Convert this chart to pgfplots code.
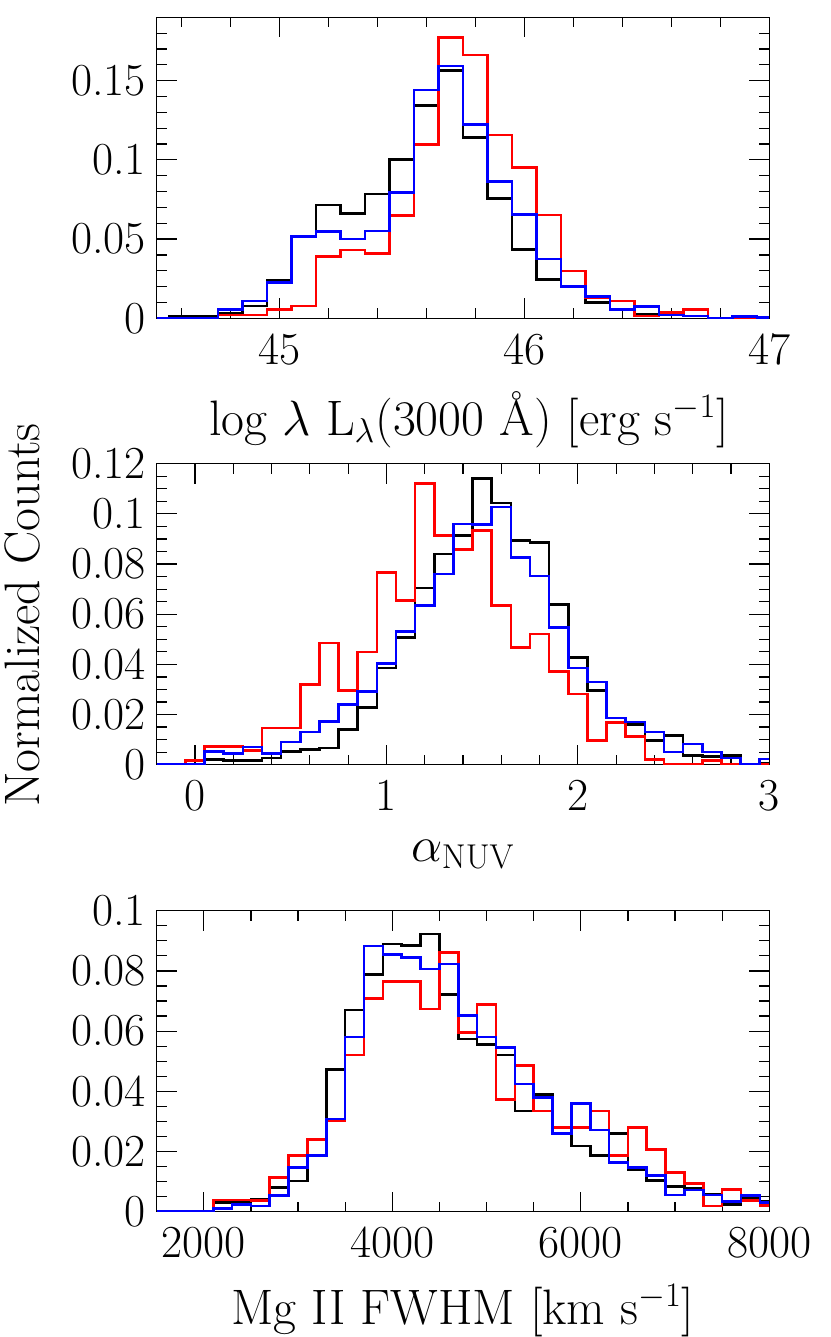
\documentclass[border=0pt]{standalone}
\usepackage{pgfplots}
\pgfplotsset{compat=1.18}
\pgfplotsset{
  histax/.style={
    scale only axis, width=306.3bp, height=150.5bp,
    axis line style={line width=0.75bp, black},
    every tick/.style={line width=0.6bp, black},
    major tick length=10bp, minor tick length=5bp,
    tick align=inside,
    tick label style={font=\fontsize{23}{26}\selectfont},
    xticklabel style={yshift=-4bp},
    yticklabel style={xshift=-2bp},
    label style={font=\fontsize{25}{28}\selectfont},
    ymin=0,
  },
  hk/.style={const plot mark left, black, line width=1.3bp, no marks},
  hr/.style={const plot mark left, red, line width=1.3bp, no marks},
  hb/.style={const plot mark left, blue, line width=1.3bp, no marks},
}
\begin{document}
\begin{tikzpicture}[x=1bp,y=1bp]
\useasboundingbox (0,0) rectangle (415,-668.5);
% ---------------- panel 1
\begin{axis}[histax, at={(78.35bp,-8.65bp)}, anchor=north west,
  xmin=44.5, xmax=47, ymax=0.19,
  xtick={45,46,47}, xticklabels={45,46,47},
  minor xtick={44.6,44.8,45.2,45.4,45.6,45.8,46.2,46.4,46.6,46.8},
  ytick={0,0.05,0.1,0.15}, yticklabels={0,0.05,0.1,0.15},
  minor ytick={0.01,0.02,0.03,0.04,0.06,0.07,0.08,0.09,0.11,0.12,0.13,0.14,0.16,0.17,0.18},
  xlabel={log $\lambda$ L$_\lambda$(3000 \AA) [erg s$^{-1}$]},
  xlabel style={at={(axis description cs:0.51,-0.388)}, anchor=base},
]
\addplot[hk] coordinates {(44.5,0) (44.55,0.0015) (44.65,0.001) (44.75,0.003) (44.85,0.0078) (44.95,0.0242) (45.05,0.0515) (45.15,0.0715) (45.25,0.0663) (45.35,0.0785) (45.45,0.1003) (45.55,0.1342) (45.65,0.1563) (45.75,0.1142) (45.85,0.0757) (45.95,0.0435) (46.05,0.0246) (46.15,0.020) (46.25,0.0099) (46.35,0.0055) (46.45,0.0027) (46.55,0.002) (46.65,0.0015) (46.75,0) (46.85,0.0006) (46.95,0) (47.0,0)};
\addplot[hr] coordinates {(44.5,0) (44.55,0) (44.65,0) (44.75,0.002) (44.85,0.002) (44.95,0.0057) (45.05,0.0078) (45.15,0.039) (45.25,0.0431) (45.35,0.041) (45.45,0.0648) (45.55,0.1098) (45.65,0.1771) (45.75,0.1662) (45.85,0.1157) (45.95,0.0953) (46.05,0.0652) (46.15,0.0299) (46.25,0.0133) (46.35,0.011) (46.45,0.0015) (46.55,0.0036) (46.65,0.0057) (46.75,0) (46.85,0) (46.95,0) (47.0,0)};
\addplot[hb] coordinates {(44.5,0) (44.55,0) (44.65,0) (44.75,0.0057) (44.85,0.011) (44.95,0.0225) (45.05,0.0515) (45.15,0.0547) (45.25,0.050) (45.35,0.0551) (45.45,0.0793) (45.55,0.1441) (45.65,0.1593) (45.75,0.1224) (45.85,0.0863) (45.95,0.0656) (46.05,0.0374) (46.15,0.020) (46.25,0.0137) (46.35,0.0057) (46.45,0.0074) (46.55,0.002) (46.65,0.0015) (46.75,0) (46.85,0.001) (46.95,0.0006) (47.0,0.0006)};
\end{axis}
% ---------------- panel 2
\begin{axis}[histax, at={(78.35bp,-231.85bp)}, anchor=north west,
  xmin=-0.2, xmax=3, ymax=0.12,
  xtick={0,1,2,3}, xticklabels={0,1,2,3},
  minor xtick={0.2,0.4,0.6,0.8,1.2,1.4,1.6,1.8,2.2,2.4,2.6,2.8},
  ytick={0,0.02,0.04,0.06,0.08,0.1,0.12}, yticklabels={0,0.02,0.04,0.06,0.08,0.1,0.12},
  minor ytick={0.005,0.01,0.015,0.025,0.03,0.035,0.045,0.05,0.055,0.065,0.07,0.075,0.085,0.09,0.095,0.105,0.11,0.115},
  xlabel={$\alpha_{\mathrm{NUV}}$},
  xlabel style={at={(axis description cs:0.5,-0.321)}, anchor=base},
]
\addplot[hk] coordinates {(-0.2,0) (-0.05,0) (0.05,0.002) (0.15,0.0016) (0.25,0.0016) (0.35,0.0027) (0.45,0.0053) (0.55,0.006) (0.65,0.0066) (0.75,0.014) (0.85,0.0229) (0.95,0.0385) (1.05,0.0508) (1.15,0.0704) (1.25,0.084) (1.35,0.0913) (1.45,0.114) (1.55,0.1043) (1.65,0.0893) (1.75,0.0886) (1.85,0.0638) (1.95,0.0428) (2.05,0.0295) (2.15,0.0186) (2.25,0.016) (2.35,0.0096) (2.45,0.0116) (2.55,0.0036) (2.65,0.0033) (2.75,0.0036) (2.85,0.0003) (2.95,0.0007) (3.0,0.0007)};
\addplot[hr] coordinates {(-0.2,0) (-0.05,0.0017) (0.05,0.0073) (0.15,0.0073) (0.25,0.0057) (0.35,0.0146) (0.45,0.0146) (0.55,0.0319) (0.65,0.0485) (0.75,0.0296) (0.85,0.0449) (0.95,0.0767) (1.05,0.0655) (1.15,0.112) (1.25,0.0914) (1.35,0.0857) (1.45,0.0933) (1.55,0.0634) (1.65,0.0468) (1.75,0.0521) (1.85,0.0372) (1.95,0.0282) (2.05,0.0096) (2.15,0.0169) (2.25,0.0113) (2.35,0.002) (2.45,0) (2.55,0) (2.65,0.0017) (2.75,0) (2.85,0) (2.95,0) (3.0,0)};
\addplot[hb] coordinates {(-0.2,0) (-0.05,0) (0.05,0.0053) (0.15,0.0044) (0.25,0.007) (0.35,0.0044) (0.45,0.009) (0.55,0.013) (0.65,0.0173) (0.75,0.0239) (0.85,0.0292) (0.95,0.0403) (1.05,0.0532) (1.15,0.0634) (1.25,0.0761) (1.35,0.096) (1.45,0.0957) (1.55,0.1027) (1.65,0.0827) (1.75,0.0753) (1.85,0.0548) (1.95,0.0385) (2.05,0.033) (2.15,0.0186) (2.25,0.017) (2.35,0.013) (2.45,0.005) (2.55,0.0082) (2.65,0.005) (2.75,0.0027) (2.85,0.0003) (2.95,0.0023) (3.0,0.0023)};
\end{axis}
% ---------------- panel 3
\begin{axis}[histax, at={(78.35bp,-455.35bp)}, anchor=north west,
  xmin=1500, xmax=8000, ymax=0.1,
  xtick={2000,4000,6000,8000}, xticklabels={2000,4000,6000,8000},
  minor xtick={2500,3000,3500,4500,5000,5500,6500,7000,7500},
  ytick={0,0.02,0.04,0.06,0.08,0.1}, yticklabels={0,0.02,0.04,0.06,0.08,0.1},
  minor ytick={0.005,0.01,0.015,0.025,0.03,0.035,0.045,0.05,0.055,0.065,0.07,0.075,0.085,0.09,0.095},
  xlabel={Mg II FWHM [km s$^{-1}$]},
  xlabel style={at={(axis description cs:0.5,-0.376)}, anchor=base},
]
\addplot[hk] coordinates {(1500,0) (1700,0.0003) (1900,0.0003) (2100,0.003) (2300,0.003) (2500,0.0042) (2700,0.008) (2900,0.0102) (3100,0.024) (3300,0.0473) (3500,0.067) (3700,0.0789) (3900,0.089) (4100,0.0884) (4300,0.0923) (4500,0.0722) (4700,0.0574) (4900,0.0556) (5100,0.0521) (5300,0.0335) (5500,0.039) (5700,0.026) (5900,0.0218) (6100,0.0186) (6300,0.026) (6500,0.0141) (6700,0.0103) (6900,0.0083) (7100,0.0078) (7300,0.0058) (7500,0.0025) (7700,0.0047) (7900,0.0033) (8000,0.0033)};
\addplot[hr] coordinates {(1500,0) (1700,0) (1900,0) (2100,0.0039) (2300,0.0039) (2500,0.0037) (2700,0.0113) (2900,0.0186) (3100,0.024) (3300,0.0301) (3500,0.0521) (3700,0.0709) (3900,0.0765) (4100,0.0765) (4300,0.0674) (4500,0.0861) (4700,0.0596) (4900,0.0689) (5100,0.0373) (5300,0.0485) (5500,0.0335) (5700,0.0279) (5900,0.0279) (6100,0.0335) (6300,0.0186) (6500,0.0279) (6700,0.0207) (6900,0.013) (7100,0.0094) (7300,0.0019) (7500,0.0074) (7700,0.0037) (7900,0.002) (8000,0.002)};
\addplot[hb] coordinates {(1500,0) (1700,0) (1900,0) (2100,0.0011) (2300,0.0024) (2500,0.0019) (2700,0.0053) (2900,0.0147) (3100,0.0186) (3300,0.0308) (3500,0.058) (3700,0.0883) (3900,0.0855) (4100,0.0844) (4300,0.0807) (4500,0.0823) (4700,0.0652) (4900,0.058) (5100,0.0546) (5300,0.0424) (5500,0.038) (5700,0.026) (5900,0.036) (6100,0.0271) (6300,0.0164) (6500,0.0147) (6700,0.012) (6900,0.0055) (7100,0.0072) (7300,0.0055) (7500,0.0033) (7700,0.0053) (7900,0.0031) (8000,0.0031)};
\end{axis}
\node[rotate=90, anchor=center, font=\fontsize{25}{28}\selectfont] at (11,-307.5) {Normalized Counts};
\end{tikzpicture}
\end{document}
